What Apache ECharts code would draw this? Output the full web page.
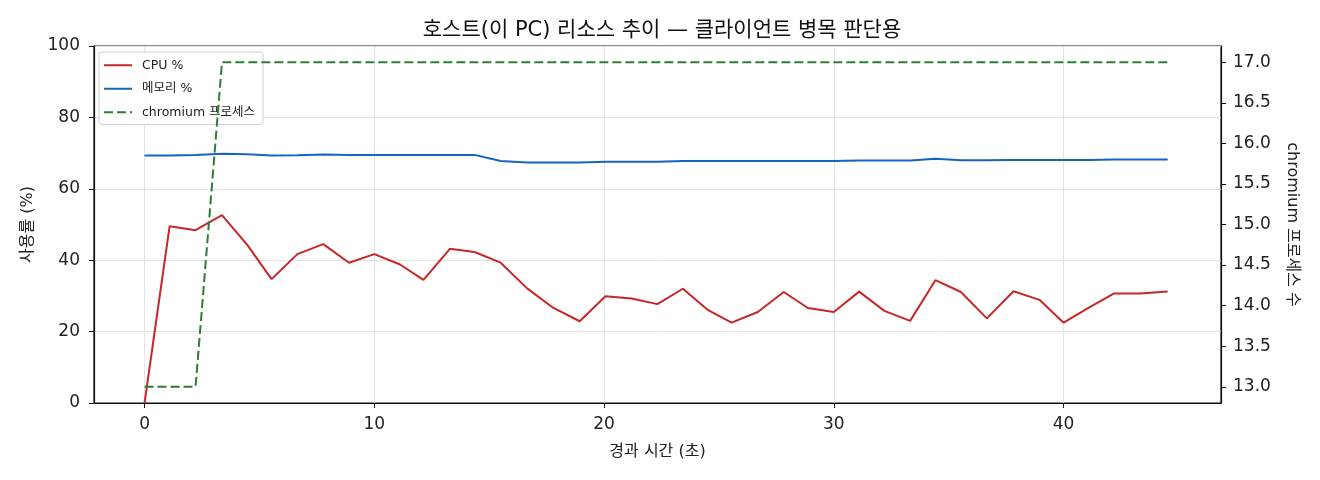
<!DOCTYPE html>
<html>
<head>
<meta charset="utf-8">
<title>호스트 리소스 추이</title>
<script src="https://cdn.jsdelivr.net/npm/echarts@6/dist/echarts.min.js"></script>
<style>
	html,body{margin:0;padding:0;background:#fff;}
	#chart{width:1320px;height:480px;}
</style>
</head>
<body>
<div id="chart"></div>
<script>
// 경과 시간 (초)
var times=[0,1.09,2.22,3.37,4.47,5.53,6.65,7.78,8.9,10.0,11.12,12.14,13.29,14.36,15.5,16.65,17.78,18.94,20.06,21.2,
	22.32,23.43,24.53,25.55,26.69,27.82,28.87,30.0,31.1,32.2,33.32,34.42,35.53,36.66,37.82,38.95,40.0,41.1,42.2,43.34,44.53];
var cpu=[0,49.5,48.4,52.6,44.3,34.7,41.7,44.5,39.3,41.7,38.8,34.5,43.2,42.3,39.3,32.1,26.7,22.9,29.9,29.3,
	27.7,32.0,26.0,22.5,25.5,31.1,26.6,25.5,31.2,25.8,23.0,34.4,31.1,23.7,31.3,28.9,22.5,26.7,30.7,30.7,31.2];
var mem=[69.3,69.3,69.5,69.8,69.7,69.3,69.4,69.6,69.5,69.5,69.5,69.5,69.5,69.5,67.8,67.4,67.4,67.4,67.6,67.6,
	67.6,67.8,67.8,67.8,67.8,67.8,67.8,67.8,67.9,67.9,67.9,68.4,68.0,68.0,68.1,68.1,68.1,68.1,68.2,68.2,68.2];
var procs=[13,13,13,17,17,17,17,17,17,17,17,17,17,17,17,17,17,17,17,17,
	17,17,17,17,17,17,17,17,17,17,17,17,17,17,17,17,17,17,17,17,17];
var xTicks=[0,10,20,30,40];
var rightTicks=[13,13.5,14,14.5,15,15.5,16,16.5,17];

function pairs(xs,ys){
	var out=[];
	for(var i=0;i<xs.length;i++){
		out.push([xs[i],ys[i]]);
	}
	return out;
}

var font='"DejaVu Sans", "Noto Sans CJK KR", sans-serif';
var myChart=echarts.init(document.getElementById('chart'));
var option={
	backgroundColor:'#fff',
	textStyle:{fontFamily:font},
	title:{
		text:'호스트(이 PC) 리소스 추이 — 클라이언트 병목 판단용',
		left:657,
		textAlign:'center',
		top:15,
		textStyle:{fontFamily:font,fontSize:21,fontWeight:'normal',color:'#111'}
	},
	legend:{
		orient:'vertical',
		left:99,
		top:52,
		z:4,
		itemWidth:28,
		itemHeight:10,
		itemGap:11,
		padding:[7,8,6,4],
		backgroundColor:'rgba(255,255,255,0.85)',
		borderColor:'#d0d0d0',
		borderWidth:1,
		borderRadius:3,
		itemStyle:{opacity:0},
		textStyle:{fontFamily:font,fontSize:12.5,color:'#222',padding:[0,0,0,5]},
		data:['CPU %','메모리 %','chromium 프로세스']
	},
	grid:{
		left:94,
		right:99,
		top:46,
		bottom:77,
		show:true,
		borderColor:'#111',
		borderWidth:1.2
	},
	xAxis:{
		type:'value',
		min:-2.2,
		max:46.85,
		name:'경과 시간 (초)',
		nameLocation:'middle',
		nameGap:41,
		nameTextStyle:{fontFamily:font,fontSize:16,color:'#222'},
		axisLine:{show:true,onZero:false,lineStyle:{color:'#111',width:1.2}},
		axisTick:{show:true,customValues:xTicks,length:5,lineStyle:{color:'#111'}},
		axisLabel:{customValues:xTicks,margin:13,fontSize:17,color:'#222',fontFamily:font},
		splitLine:{show:true,lineStyle:{color:'#e4e4e4',width:1}}
	},
	yAxis:[
		{
			type:'value',
			min:0,
			max:100,
			interval:20,
			name:'사용률 (%)',
			nameLocation:'middle',
			nameGap:58,
			nameTextStyle:{fontFamily:font,fontSize:16,color:'#222'},
			axisLine:{show:true,onZero:false,lineStyle:{color:'#111',width:1.2}},
			axisTick:{show:true,length:5,lineStyle:{color:'#111'}},
			axisLabel:{margin:14,fontSize:17,color:'#222',fontFamily:font},
			splitLine:{show:true,lineStyle:{color:'#e4e4e4',width:1}}
		},
		{
			type:'value',
			min:12.8,
			max:17.2,
			position:'right',
			name:'chromium 프로세스 수',
			nameLocation:'middle',
			nameRotate:-90,
			nameGap:63,
			nameTextStyle:{fontFamily:font,fontSize:16,color:'#222'},
			axisLine:{show:true,onZero:false,lineStyle:{color:'#111',width:1.2}},
			axisTick:{show:true,customValues:rightTicks,length:5,lineStyle:{color:'#111'}},
			axisLabel:{customValues:rightTicks,margin:12,fontSize:17,color:'#222',fontFamily:font,
				formatter:function(v){return v.toFixed(1);}},
			splitLine:{show:false}
		}
	],
	series:[
		{
			name:'CPU %',
			type:'line',
			yAxisIndex:0,
			data:pairs(times,cpu),
			showSymbol:false,
			symbol:'none',
			color:'#c62828',
			lineStyle:{color:'#c62828',width:2},
			z:3
		},
		{
			name:'메모리 %',
			type:'line',
			yAxisIndex:0,
			data:pairs(times,mem),
			showSymbol:false,
			symbol:'none',
			color:'#1565c0',
			lineStyle:{color:'#1565c0',width:2},
			z:3
		},
		{
			name:'chromium 프로세스',
			type:'line',
			yAxisIndex:1,
			data:pairs(times,procs),
			showSymbol:false,
			symbol:'none',
			color:'#2e7d32',
			lineStyle:{color:'#2e7d32',width:2,type:[9,4]},
			z:5
		}
	]
};
myChart.setOption(option);
</script>
</body>
</html>
